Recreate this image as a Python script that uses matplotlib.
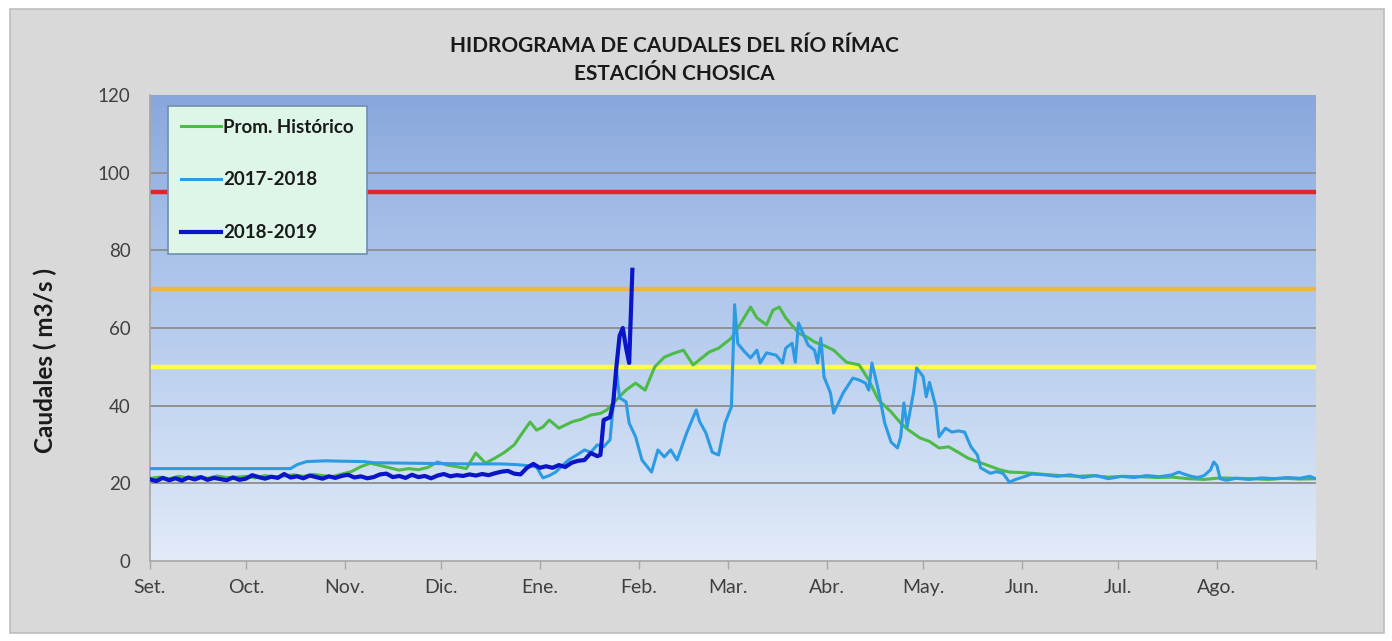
import numpy as np
import matplotlib
matplotlib.use('Agg')
import matplotlib.pyplot as plt
from matplotlib.patches import Rectangle
from matplotlib.colors import LinearSegmentedColormap

plt.rcParams['font.family'] = ['Lato', 'DejaVu Sans']

# Month ticks (day of hydrological year, starting Sept 1)
month_days = [0, 30, 61, 91, 122, 153, 181, 212, 242, 273, 303, 334, 365]
month_labels = ['Set.', 'Oct.', 'Nov.', 'Dic.', 'Ene.', 'Feb.', 'Mar.', 'Abr.',
                'May.', 'Jun.', 'Jul.', 'Ago.', '']

# Prom. Histórico
hist_day = [0, 3, 6, 9, 12, 15, 18, 21, 24, 27, 30, 33, 36, 39, 42, 45, 48, 51, 54,
            57, 60, 63, 66, 69, 72, 75, 78, 81, 84, 87, 90, 93, 96, 99, 102, 105, 108, 111, 114, 117,
            119, 121, 123, 125, 128, 132, 135, 138, 141, 143, 146, 149, 152, 155, 158, 161, 164, 167, 170, 172, 175, 178,
            182, 185, 188, 190, 193, 195, 197, 199, 203, 206, 208, 211, 214, 218, 222, 225, 228, 232, 235, 237,
            241, 244, 247, 250, 253, 256, 259, 262, 266, 269, 272, 276, 280, 285, 290, 295, 300, 305, 310, 315,
            320, 325, 330, 335, 340, 345, 350, 355, 360, 365]
hist_q = [21.3, 21.6, 21.2, 21.8, 21.4, 21.7, 21.3, 21.9, 21.5, 21.6, 21.8, 21.4, 22.0, 21.6, 21.9, 22.2, 21.8, 22.3, 22.0,
          21.7, 22.4, 23.0, 24.3, 25.2, 24.6, 24.0, 23.4, 23.8, 23.5, 24.1, 25.5, 24.7, 24.3, 23.8, 27.8, 25.2, 26.5, 28.0, 29.9, 33.5,
          35.8, 33.7, 34.5, 36.3, 34.2, 35.8, 36.5, 37.6, 38.0, 38.9, 41.5, 44.0, 45.8, 44.0, 50.0, 52.5, 53.5, 54.3, 50.5, 51.8, 53.8, 54.8,
          57.4, 61.3, 65.4, 62.6, 60.8, 64.6, 65.4, 62.6, 58.7, 57.5, 56.4, 55.5, 54.3, 51.2, 50.5, 46.6, 41.5, 38.4, 35.5, 34.0,
          31.7, 30.8, 29.1, 29.4, 28.0, 26.5, 25.6, 24.7, 23.5, 22.9, 22.8, 22.6, 22.3, 22.0, 21.8, 22.0, 21.6, 21.8, 21.7, 21.5,
          21.6, 21.2, 21.0, 21.4, 21.3, 21.2, 21.0, 21.3, 21.1, 21.2]

# 2017-2018
y1718_day = [0, 44, 46, 49, 55, 60, 67, 70, 80, 90, 100, 110, 115, 119, 121, 123, 125, 127, 129, 131,
             134, 136, 138, 140, 142, 144, 145, 146, 147, 149, 150, 152, 154, 157, 159, 161, 163, 165, 168, 171,
             172, 174, 176, 178, 180, 182, 183, 184, 186, 188, 190, 191, 193, 196, 198, 199, 201, 202, 203, 206,
             208, 209, 210, 211, 213, 214, 217, 220, 222, 224, 225, 226, 228, 230, 232, 234, 235, 236, 237, 239,
             240, 242, 243, 244, 246, 247, 249, 251, 253, 255, 257, 259, 260, 263, 265, 267, 269, 271, 274, 276,
             280, 284, 288, 292, 296, 300, 304, 308, 312, 316, 320, 322, 324, 326, 328, 330, 332, 333, 334, 335,
             337, 340, 344, 348, 352, 356, 360, 363, 365]
y1718_q = [23.8, 23.8, 24.8, 25.6, 25.8, 25.7, 25.6, 25.3, 25.2, 25.1, 25.0, 25.0, 24.8, 24.5, 24.2, 21.4, 22.0, 22.9, 24.5, 26.0,
           27.5, 28.6, 28.0, 29.9, 29.4, 31.2, 40.0, 49.2, 42.0, 41.0, 35.5, 32.0, 26.0, 22.9, 28.6, 26.8, 28.6, 26.0, 33.0, 38.9,
           36.0, 33.0, 28.0, 27.3, 35.5, 39.7, 66.0, 56.0, 54.0, 52.3, 54.3, 51.0, 53.6, 53.0, 51.0, 54.8, 56.1, 51.2, 61.3, 55.6,
           54.3, 51.0, 57.4, 47.4, 43.3, 38.1, 43.3, 47.1, 46.6, 45.8, 44.0, 51.0, 44.0, 35.5, 30.6, 29.1, 32.0, 40.7, 34.5, 43.3,
           49.7, 47.5, 42.3, 46.0, 39.7, 32.0, 34.2, 33.2, 33.5, 33.2, 29.4, 27.3, 24.0, 22.6, 23.0, 22.6, 20.3, 21.0, 21.8, 22.4,
           22.2, 21.8, 22.2, 21.5, 22.0, 21.2, 21.8, 21.5, 22.0, 21.7, 22.2, 22.9, 22.3, 21.8, 21.5, 22.0, 23.5, 25.5, 24.5, 21.2,
           20.8, 21.3, 21.0, 21.4, 21.2, 21.5, 21.3, 21.8, 21.2]

# 2018-2019 (up to end of January)
y1819_day = list(range(0, 141, 2)) + [141, 142, 144, 145, 146, 147, 148, 149, 150, 151]
y1819_q = [21.0, 20.6, 21.4, 20.8, 21.3, 20.7, 21.5, 21.0, 21.6, 20.9, 21.4, 21.1, 20.8, 21.5, 20.9, 21.2,
           22.1, 21.6, 21.2, 21.7, 21.4, 22.4, 21.5, 21.8, 21.3, 22.0, 21.6, 21.2, 21.8, 21.4, 21.9, 22.2,
           21.5, 21.8, 21.3, 21.6, 22.3, 22.5, 21.6, 21.9, 21.4, 22.2, 21.6, 21.9, 21.3, 22.0, 22.4, 21.8,
           22.1, 21.9, 22.3, 22.0, 22.4, 22.1, 22.6, 23.0, 23.2, 22.5, 22.3, 24.0, 25.0, 24.0, 24.4, 24.0,
           24.7, 24.2, 25.3, 25.8, 26.0, 27.8, 27.0,
           27.3, 36.3, 37.0, 40.7, 50.0, 58.0, 60.0, 55.0, 51.0, 75.0]

# Alert thresholds
threshold_q = [95, 70, 50]
threshold_colors = ['#e3242b', '#f0b444', '#ffff3a']

fig = plt.figure(figsize=(13.92, 6.41), dpi=100)
fig.patch.set_facecolor('white')
fig.patches.append(Rectangle((10 / 1392, 8 / 641), 1374 / 1392, 624 / 641,
                             transform=fig.transFigure, facecolor='#d9d9d9',
                             edgecolor='#bdbdbd', linewidth=1.2, zorder=-10))

ax = fig.add_axes([150 / 1392, 1 - 561 / 641, 1166 / 1392, 466 / 641])
ax.set_facecolor('none')

# background gradient of the plot area
cmap = LinearSegmentedColormap.from_list('bg', ['#e2ebf8', '#c4d6f1', '#a9c2ea', '#89a7dc'])
grad = np.linspace(0, 1, 256).reshape(-1, 1)
ax.imshow(grad, extent=[0, 365, 0, 120], origin='lower', aspect='auto',
          cmap=cmap, zorder=0)

for yv in [20, 40, 60, 80, 100]:
    ax.axhline(yv, color='#8c8c8c', linewidth=1.3, zorder=1)

for q, c in zip(threshold_q, threshold_colors):
    ax.axhline(q, color=c, linewidth=3.2, zorder=2)

ax.plot(hist_day, hist_q, color='#4cbb47', linewidth=2.2, label='Prom. Histórico', zorder=3)
ax.plot(y1718_day, y1718_q, color='#2b9be3', linewidth=2.2, label='2017-2018', zorder=4)
ax.plot(y1819_day, y1819_q, color='#0a14c8', linewidth=3.0, label='2018-2019', zorder=5)

ax.set_xlim(0, 365)
ax.set_ylim(0, 120)
ax.set_yticks(range(0, 121, 20))
ax.set_xticks(month_days)
ax.set_xticklabels(month_labels)
ax.tick_params(axis='y', length=0, pad=14, labelsize=13.5, labelcolor='#404040')
ax.tick_params(axis='x', length=6, width=1, color='#a6a6a6', pad=7,
               labelsize=14, labelcolor='#404040')
for side in ['top', 'right']:
    ax.spines[side].set_visible(False)
for side in ['left', 'bottom']:
    ax.spines[side].set_color('#a6a6a6')
    ax.spines[side].set_linewidth(1.2)

ax.set_ylabel('Caudales ( m3/s )', fontsize=17.5, fontweight='bold', color='#1a1a1a')
ax.yaxis.set_label_coords(-0.08, 0.43)

leg = ax.legend(loc='upper left', bbox_to_anchor=(0.0155, 0.977), frameon=True,
                fontsize=13.5, labelspacing=1.9, handlelength=2.1, handletextpad=0.15,
                borderpad=0.7, borderaxespad=0, fancybox=False)
leg.get_frame().set_facecolor('#ddf6e8')
leg.get_frame().set_edgecolor('#6f8fae')
leg.get_frame().set_alpha(1)
leg.get_frame().set_linewidth(1.2)
for t in leg.get_texts():
    t.set_fontweight('bold')
    t.set_color('#1a1a1a')

fig.text(674 / 1392, 1 - 46 / 641, 'HIDROGRAMA DE CAUDALES DEL RÍO RÍMAC',
         ha='center', va='center', fontsize=15, fontweight='bold', color='#1a1a1a')
fig.text(674 / 1392, 1 - 74 / 641, 'ESTACIÓN CHOSICA',
         ha='center', va='center', fontsize=15, fontweight='bold', color='#1a1a1a')

fig.savefig('out.png', dpi=100)
